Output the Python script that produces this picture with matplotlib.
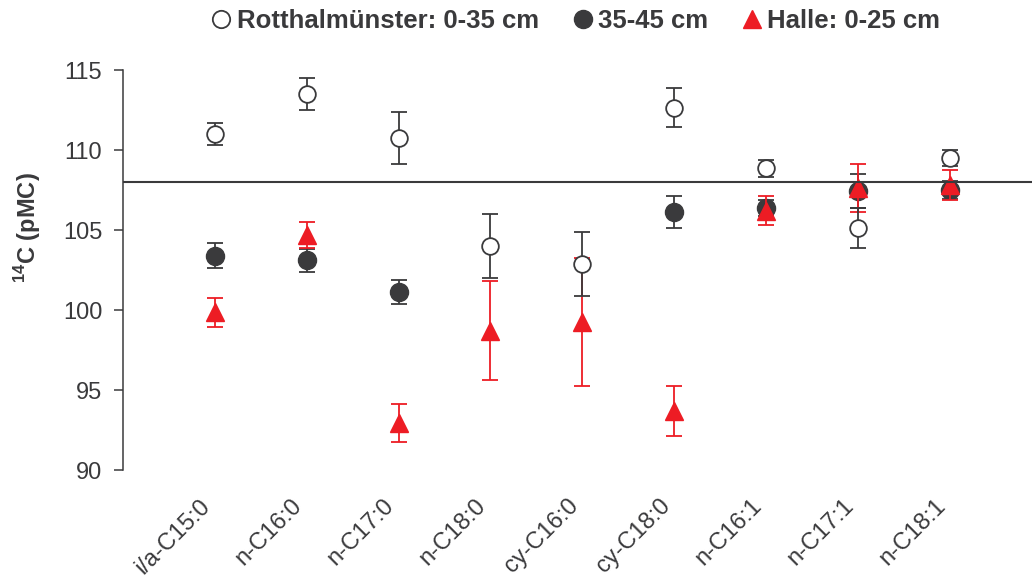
import numpy as np
import matplotlib
matplotlib.use('Agg')
import matplotlib.pyplot as plt
from matplotlib.lines import Line2D

plt.rcParams['font.family'] = ['Liberation Sans', 'DejaVu Sans']
plt.rcParams['mathtext.fontset'] = 'custom'
plt.rcParams['mathtext.rm'] = 'Liberation Sans'
plt.rcParams['mathtext.bf'] = 'Liberation Sans:bold'

# fatty acids
categories = ['i/a-C15:0', 'n-C16:0', 'n-C17:0', 'n-C18:0', 'cy-C16:0',
              'cy-C18:0', 'n-C16:1', 'n-C17:1', 'n-C18:1']

# Rotthalmuenster 0-35 cm (open circles)
rott_top = [111.0, 113.5, 110.75, 104.0, 102.85, 112.65, 108.85, 105.15, 109.5]
rott_top_err = [0.7, 1.0, 1.6, 2.0, 2.0, 1.2, 0.55, 1.25, 0.48]

# Rotthalmuenster 35-45 cm (filled circles)
rott_deep = [103.4, 103.1, 101.1, np.nan, np.nan, 106.1, 106.4, 107.45, 107.5]
rott_deep_err = [0.8, 0.7, 0.75, np.nan, np.nan, 1.0, 0.5, 1.05, 0.58]

# Halle 0-25 cm (red triangles)
halle = [99.85, 104.7, 92.95, 98.7, 99.25, 93.7, 106.2, 107.6, 107.8]
halle_err = [0.9, 0.8, 1.2, 3.1, 4.0, 1.55, 0.9, 1.5, 0.95]

# atmospheric reference level
atm_level = 108.0

yticks = [90, 95, 100, 105, 110, 115]

dark = '#3a3a3c'
red = '#ed1c24'

fig = plt.figure(figsize=(10.32, 5.83), dpi=100)
ax = fig.add_axes([0.1189, 0.1938, 0.8811, 0.6861])

x = np.arange(len(categories))

ax.errorbar(x, rott_deep, yerr=rott_deep_err, fmt='o', color=dark, ms=13,
            mec=dark, mfc=dark, elinewidth=1.3, capsize=6, capthick=1.3,
            zorder=2)
ax.errorbar(x, halle, yerr=halle_err, fmt='^', color=red, ms=13,
            mec=red, mfc=red, elinewidth=1.3, capsize=6, capthick=1.3,
            zorder=3)
ax.errorbar(x, rott_top, yerr=rott_top_err, fmt='o', color=dark, ms=12,
            mec=dark, mfc='white', mew=1.3, elinewidth=1.3, capsize=6,
            capthick=1.3, zorder=4)

ax.axhline(atm_level, color=dark, lw=1.5, zorder=5)

ax.set_xlim(-1, 8.89)
ax.set_ylim(90, 115)
ax.set_yticks(yticks)
ax.set_xticks(x)
ax.set_xticklabels(categories, rotation=45, ha='right')

for s in ['top', 'right', 'bottom']:
    ax.spines[s].set_visible(False)
ax.spines['left'].set_color(dark)
ax.spines['left'].set_linewidth(1.1)
ax.tick_params(axis='y', length=6.3, width=1.1, color=dark, pad=8.5,
               labelsize=17, labelcolor=dark)
ax.tick_params(axis='x', length=0, pad=18, labelsize=17, labelcolor=dark)

ax.set_ylabel(r'$^{\mathbf{14}}$C (pMC)', fontsize=17, fontweight='bold',
              color=dark)
ax.yaxis.set_label_coords(-0.088, 0.605)

# legend: markers only
handles = [
    Line2D([], [], ls='none', marker='o', ms=12.5, mfc='white', mec=dark, mew=1.3),
    Line2D([], [], ls='none', marker='o', ms=13, mfc=dark, mec=dark),
    Line2D([], [], ls='none', marker='^', ms=13, mfc=red, mec=red),
]
labels = ['Rotthalmünster: 0-35 cm', '35-45 cm', 'Halle: 0-25 cm']
leg = fig.legend(handles, labels, loc='center', bbox_to_anchor=(0.559, 0.964),
                 ncol=3, frameon=False, handlelength=0.6, handletextpad=0.3,
                 columnspacing=1.4, prop={'size': 18.5, 'weight': 'bold'})
for t in leg.get_texts():
    t.set_color(dark)

fig.savefig('out.png', dpi=100)
